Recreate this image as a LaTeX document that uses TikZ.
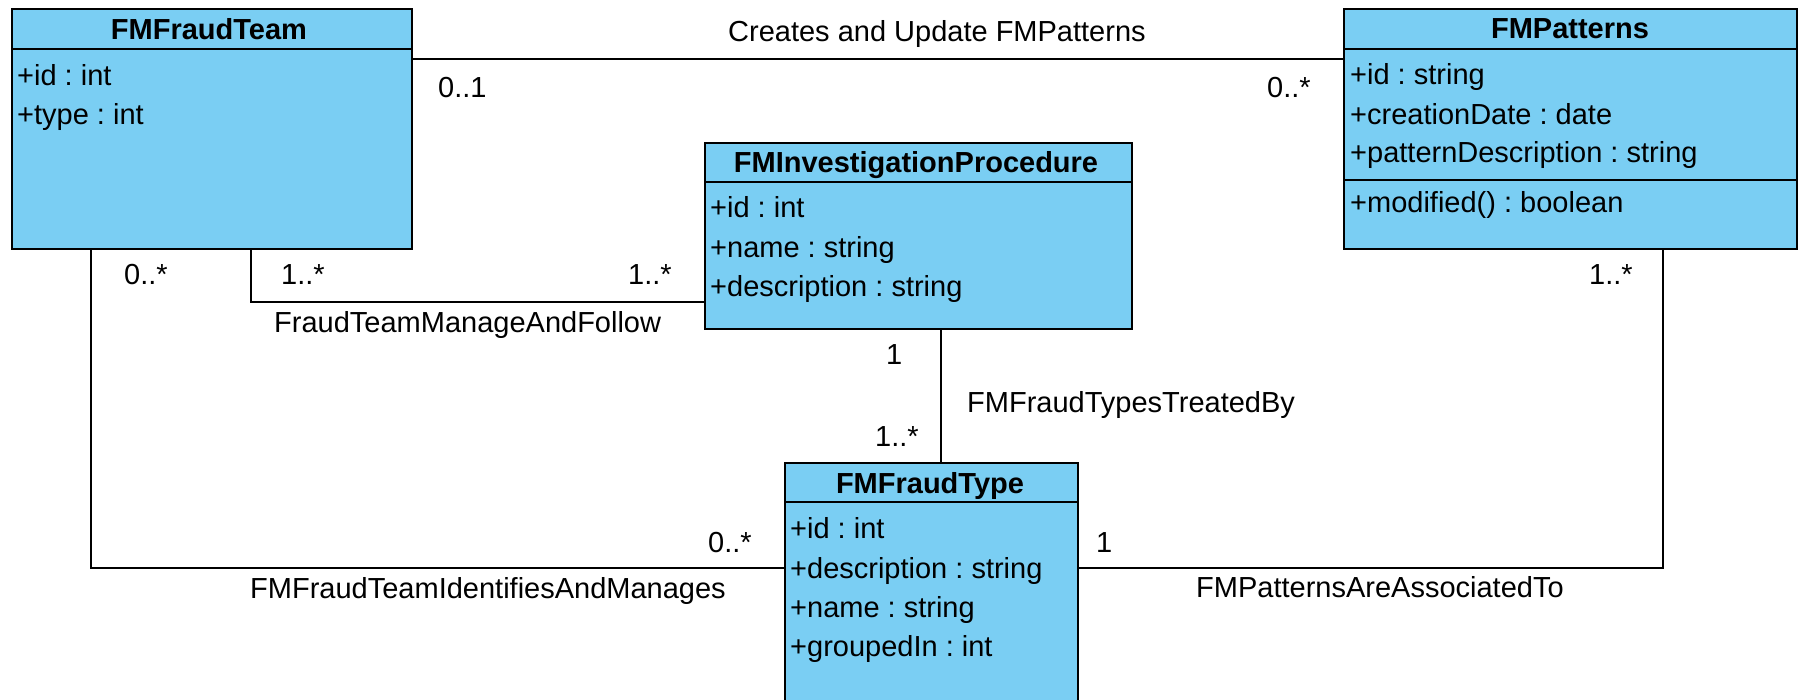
\documentclass[tikz,border=0pt]{standalone}
\usepackage{fontspec}
\setmainfont{Liberation Sans}
\frenchspacing
\definecolor{umlblue}{RGB}{122,206,243}
\tikzset{
  classbox/.style={draw=black, fill=umlblue, line width=2.2pt, inner sep=0pt, anchor=north west},
  divider/.style={line width=2.2pt},
  assoc/.style={draw=black, line width=2.2pt},
  title/.style={font=\fontsize{29pt}{35pt}\selectfont\bfseries, inner sep=0pt, anchor=base},
  member/.style={font=\fontsize{29pt}{35pt}\selectfont, inner sep=0pt, anchor=base west},
  lbl/.style={font=\fontsize{29pt}{35pt}\selectfont, inner sep=0pt, anchor=base west},
}
\begin{document}
\begin{tikzpicture}[x=1pt, y=-1pt]
\useasboundingbox (0,0) rectangle (1801,700);
\clip (0,0) rectangle (1801,700);

% ---- classes ----
\node[classbox, minimum width=400pt, minimum height=240pt] (team) at (11,8) {};
\draw[divider] (11,49) -- (411,49);
\node[title] (teamT) at (209,40) {FMFraudTeam};
\node[member] (teamA1) at (17,86) {+id : int};
\node[member] (teamA2) at (17,125) {+type : int};

\node[classbox, minimum width=453pt, minimum height=240pt] (patterns) at (1343,8) {};
\draw[divider] (1343,49) -- (1796,49);
\draw[divider] (1343,180) -- (1796,180);
\node[title] (patT) at (1570,39) {FMPatterns};
\node[member] (patA1) at (1350,85) {+id : string};
\node[member] (patA2) at (1350,125) {+creationDate : date};
\node[member] (patA3) at (1350,163) {+patternDescription : string};
\node[member] (patM1) at (1350,213) {+modified() : boolean};

\node[classbox, minimum width=427pt, minimum height=186pt] (proc) at (704,142) {};
\draw[divider] (704,182) -- (1131,182);
\node[title] (procT) at (916,173) {FMInvestigationProcedure};
\node[member] (procA1) at (710,218) {+id : int};
\node[member] (procA2) at (710,258) {+name : string};
\node[member] (procA3) at (710,297) {+description : string};

\node[classbox, minimum width=293pt, minimum height=258pt] (type) at (784,462) {};
\draw[divider] (784,502) -- (1077,502);
\node[title] (typeT) at (930,493) {FMFraudType};
\node[member] (typeA1) at (790,538) {+id : int};
\node[member] (typeA2) at (790,578) {+description : string};
\node[member] (typeA3) at (790,617) {+name : string};
\node[member] (typeA4) at (790,656) {+groupedIn : int};

% ---- associations ----
\draw[assoc] ([yshift=-51pt]team.north east) -- ([yshift=-51pt]patterns.north west);
\draw[assoc] ([xshift=80pt]team.south west) |- ([yshift=-106pt]type.north west);
\draw[assoc] ([xshift=240pt]team.south west) |- ([yshift=-160pt]proc.north west);
\draw[assoc] ([xshift=237pt]proc.south west) -- ([xshift=237pt]proc.south west |- type.north);
\draw[assoc] ([xshift=320pt]patterns.south west) |- ([yshift=-106pt]type.north east);

% ---- association names and multiplicities ----
\node[lbl] (l1) at (728,42) {Creates and Update FMPatterns};
\node[lbl] (m1a) at (438,98) {0..1};
\node[lbl] (m1b) at (1267,98) {0..*};

\node[lbl] (m2a) at (124,285) {0..*};
\node[lbl] (m2b) at (708,552) {0..*};
\node[lbl] (l2) at (250,598) {FMFraudTeamIdentifiesAndManages};

\node[lbl] (m3a) at (281,285) {1..*};
\node[lbl] (m3b) at (628,285) {1..*};
\node[lbl] (l3) at (274,333) {FraudTeamManageAndFollow};

\node[lbl] (m4a) at (886,365) {1};
\node[lbl] (m4b) at (875,446) {1..*};
\node[lbl] (l4) at (967,412) {FMFraudTypesTreatedBy};

\node[lbl] (m5a) at (1589,285) {1..*};
\node[lbl] (m5b) at (1096,552) {1};
\node[lbl] (l5) at (1196,597) {FMPatternsAreAssociatedTo};
\end{tikzpicture}
\end{document}
